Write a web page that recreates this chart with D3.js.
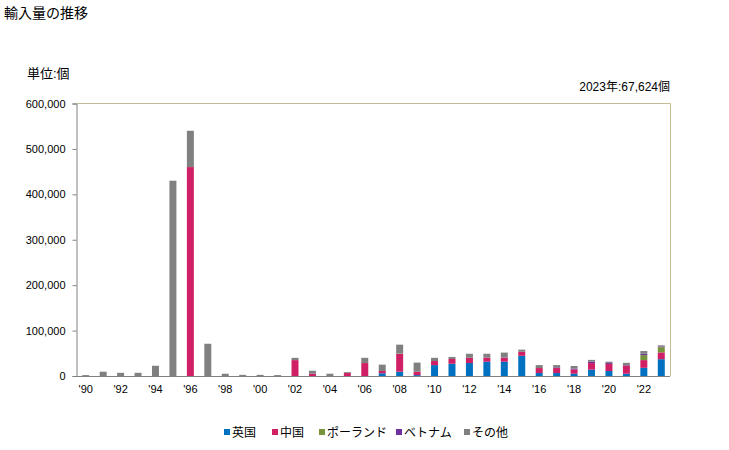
<!DOCTYPE html>
<html><head><meta charset="utf-8">
<script src="https://cdn.jsdelivr.net/npm/d3@7/dist/d3.min.js"></script>
<style>
body{margin:0;background:#fff;}
text{font-family:"Liberation Sans","Noto Sans CJK JP",sans-serif;fill:#000;}
</style></head><body>
<svg id="c" width="729" height="450"></svg>
<script>
const years = d3.range(1990, 2024);
const seriesNames = ["英国","中国","ポーランド","ベトナム","その他"];
const seriesColors = ["#0070C0","#D01F64","#77933C","#7030A0","#808080"];
const uk      = [0,0,0,0,0,0,0,0,0,0,0,0,0,0,0,0,0,6000,9500,2000,24000,27000,28500,31500,31500,44500,6500,6500,5000,14000,11000,5000,18000,37000];
const china   = [0,0,0,0,0,0,460000,0,0,0,0,0,35000,5000,0,6500,28500,5000,39000,7500,9000,10500,11500,9000,9000,9000,11000,11000,9500,14500,15500,18000,17000,15000];
const poland  = [0,0,0,0,0,0,0,0,0,0,0,0,0,0,0,0,0,0,1000,0,0,0,0,0,0,0,0,0,0,0,0,0,11000,11500];
const vietnam = [0,0,0,0,0,0,0,0,0,0,0,0,0,0,0,0,0,0,0,0,0,0,0,0,0,0,0,1500,2000,3000,2000,1000,3000,1500];
const other   = [2000,9500,7000,7000,22500,430000,80000,71000,5000,2500,2500,2000,5000,6500,5000,2000,11500,14000,19500,20000,7000,4500,9000,8500,11000,4500,6500,5000,5500,4000,3000,5000,6000,2624];
const yTicks = [0,100000,200000,300000,400000,500000,600000];
const xLabelYears = d3.range(1990, 2023, 2);

const svg = d3.select("#c");
const L = 77, R = 670, T = 103.5, B = 376;

const rows = years.map((y,i)=>({year:y, "英国":uk[i], "中国":china[i], "ポーランド":poland[i], "ベトナム":vietnam[i], "その他":other[i]}));
const stack = d3.stack().keys(seriesNames)(rows);

const x = d3.scaleBand().domain(years).range([L,R]).paddingInner(0.6).paddingOuter(0.3);
const y = d3.scaleLinear().domain([0,600000]).range([B,T]);
const color = d3.scaleOrdinal().domain(seriesNames).range(seriesColors);

// frame top/right
svg.append("line").attr("x1",L).attr("x2",R+0.5).attr("y1",T).attr("y2",T).attr("stroke","#C4BC96").attr("stroke-width",1);
svg.append("line").attr("x1",R+0.5).attr("x2",R+0.5).attr("y1",T).attr("y2",B).attr("stroke","#C4BC96").attr("stroke-width",1);

// bars
svg.append("g").selectAll("g").data(stack).join("g").attr("fill",d=>color(d.key))
  .selectAll("rect").data(d=>d).join("rect")
  .attr("x",d=>x(d.data.year)).attr("width",x.bandwidth())
  .attr("y",d=>y(d[1])).attr("height",d=>Math.max(0,y(d[0])-y(d[1])));

// y axis
const ya = svg.append("g").attr("transform",`translate(${L-0.5},0)`)
  .call(d3.axisLeft(y).tickValues(yTicks).tickFormat(d3.format(",")).tickSize(4).tickPadding(7));
ya.select(".domain").attr("stroke","#808080");
ya.selectAll(".tick line").attr("stroke","#808080");
ya.selectAll("text").attr("font-size",11).attr("fill","#000");

// x axis
const xa = svg.append("g").attr("transform",`translate(0,${B+0.5})`)
  .call(d3.axisBottom(x).tickValues(xLabelYears).tickFormat(d=>"'"+String(d).slice(2)).tickSize(0).tickPadding(9).tickSizeOuter(0));
xa.select(".domain").attr("stroke","#808080").attr("d",`M${L},0H${R}`);
xa.selectAll("text").attr("font-size",11).attr("fill","#000");

// texts
svg.append("text").attr("x",4).attr("y",18).attr("font-size",14).text("輸入量の推移");
svg.append("text").attr("x",27).attr("y",78).attr("font-size",13).text("単位:個");
svg.append("text").attr("x",670).attr("y",91).attr("font-size",12).attr("text-anchor","end").text("2023年:67,624個");

// legend
const legX = [224,272,319,396,464];
const lg = svg.append("g");
seriesNames.forEach((n,i)=>{
  lg.append("rect").attr("x",legX[i]).attr("y",429).attr("width",6).attr("height",6).attr("fill",seriesColors[i]);
  lg.append("text").attr("x",legX[i]+8).attr("y",437).attr("font-size",12).text(n);
});
</script></body></html>
